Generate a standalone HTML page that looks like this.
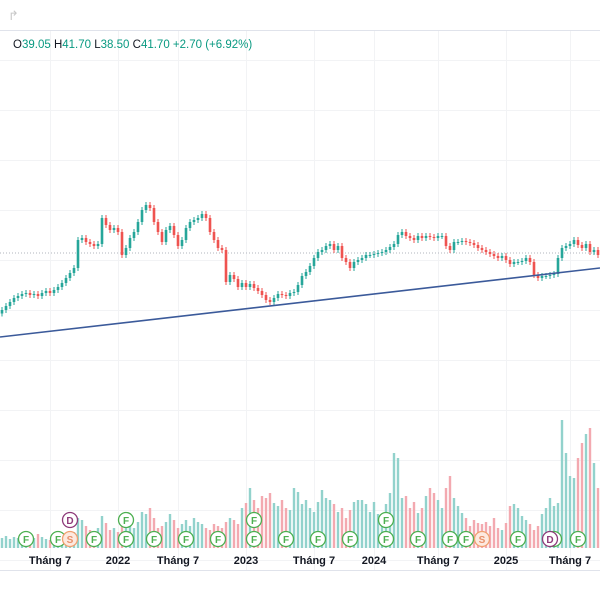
<!DOCTYPE html>
<html><head><meta charset="utf-8">
<style>
body{margin:0;background:#fff;font-family:"Liberation Sans",sans-serif;}
#wrap{position:relative;width:600px;height:600px;overflow:hidden;background:#fff;}
svg{position:absolute;left:0;top:0;}
</style></head>
<body>
<div id="wrap">
<svg id="chart" width="600" height="600">
  <text x="8" y="20" font-size="13" fill="#c8c8c8">↱</text>
  <line x1="0" y1="30.5" x2="600" y2="30.5" stroke="#e0e3eb"/>
  <g id="grid"></g>
  <line x1="0" y1="253" x2="600" y2="253" stroke="#b2b5be" stroke-dasharray="1,2"/>
  <g id="vol"></g>
  <g id="candles"></g>
  <line x1="0" y1="337" x2="600" y2="268" stroke="#3b5a9a" stroke-width="1.6"/>
  <g id="events"></g>
  <g id="xaxis"></g>
  <line x1="0" y1="570.5" x2="600" y2="570.5" stroke="#e0e3eb"/>
  <text x="13" y="48" font-size="11.5"><tspan fill="#131722">O</tspan><tspan fill="#089981">39.05 </tspan><tspan fill="#131722">H</tspan><tspan fill="#089981">41.70 </tspan><tspan fill="#131722">L</tspan><tspan fill="#089981">38.50 </tspan><tspan fill="#131722">C</tspan><tspan fill="#089981">41.70 +2.70 (+6.92%)</tspan></text>
</svg>
</div>
<script>
const closes=[30.3,31.1,31.9,32.7,33.1,33.5,33.7,33.3,33.5,33.1,33.7,34.1,33.7,34.3,34.9,35.7,36.7,37.7,38.7,44.3,
44.7,43.9,43.5,43.1,43.5,48.7,47.3,46.3,46.7,45.9,41.3,42.7,44.7,45.9,47.9,50.3,51.3,50.7,47.9,45.9,
43.9,46.3,47.1,45.3,43.1,44.3,46.7,47.9,48.3,48.7,49.5,48.7,45.9,44.3,42.7,42.3,35.9,37.3,36.5,34.9,
35.7,34.9,35.5,34.7,34.1,33.3,32.3,31.9,32.7,33.5,33.3,33.1,33.7,33.9,35.3,37.1,37.9,39.1,40.7,41.9,
42.3,43.1,43.5,42.3,43.1,40.7,39.9,38.7,39.9,40.3,40.7,41.3,41.3,41.5,41.7,41.9,42.3,42.9,43.5,45.3,
45.9,45.1,44.7,44.3,45.1,44.7,45.1,44.9,44.7,45.1,45.1,43.1,42.3,43.9,43.9,44.1,43.9,43.7,43.3,42.7,
42.3,41.9,41.5,41.1,40.7,41.1,40.3,39.5,39.9,39.9,40.1,40.7,39.9,37.3,36.7,37.1,37.1,37.3,37.5,40.7,
42.7,43.1,43.5,44.3,43.3,42.7,43.5,41.9,42.3,41.3];
const volumes=[10,12,9,11,10,8,12,9,10,14,11,9,8,10,12,13,15,14,16,30,
28,22,18,16,20,32,25,18,20,16,24,22,28,20,26,36,34,40,30,20,
22,26,34,28,20,24,28,22,30,26,24,20,18,24,22,20,26,30,28,24,
40,45,60,48,40,52,50,55,45,42,48,40,38,60,56,44,48,40,36,46,
58,50,48,44,36,40,30,38,46,48,48,44,36,46,34,30,44,55,95,90,
50,52,40,46,35,40,52,60,55,48,40,60,72,50,42,35,30,22,28,25,
24,26,22,30,20,18,25,42,44,40,32,28,24,18,22,34,40,50,42,45,
128,95,72,70,90,105,114,120,85,60];
const firstOpen=29.6;
const timeLabels=["Tháng 7","2022","Tháng 7","2023","Tháng 7","2024","Tháng 7","2025","Tháng 7"];
const timeLabelIdx=[12,29,44,61,78,93,109,126,142];
const eventTypes=["F","F","S","F","F","F","F","F","F","F","F","F","F","F","F","F","S","F","F","D","F","D","F","F","F"];
const eventIdx=[6,14,17,23,31,38,46,54,63,71,79,87,96,104,112,116,120,129,138,137,144,17,31,63,96];
const eventRow=[0,0,0,0,0,0,0,0,0,0,0,0,0,0,0,0,0,0,0,0,0,1,1,1,1];

const NS="http://www.w3.org/2000/svg";
const step=4;
function xOf(i){return 2+i*step;}
function yP(p){return 253-(p-41.7)*5;}
const volBase=548;
function yV(v){return volBase-v;}
function mk(tag,attrs,parent){const e=document.createElementNS(NS,tag);for(const k in attrs)e.setAttribute(k,attrs[k]);parent.appendChild(e);return e;}

const grid=document.getElementById('grid');
for(let y=60;y<570;y+=50){const l=mk('line',{x1:0,x2:600,y1:y+0.5,y2:y+0.5,stroke:'#f2f3f5'},grid);

}
timeLabelIdx.forEach(i=>{const l=mk('line',{x1:xOf(i)+0.5,x2:xOf(i)+0.5,y1:31,y2:570,stroke:'#f2f3f5'},grid);

});

const vol=document.getElementById('vol'),cg=document.getElementById('candles');
closes.forEach((c,i)=>{
  const o=i===0?firstOpen:closes[i-1];
  const up=c>=o;
  const x=xOf(i);
  const b=mk('rect',{x:x-1.2,y:yV(volumes[i]),width:2.4,height:volumes[i],fill:up?'#92d2cc':'#f3a9b0'},vol);
  
  
  const col=up?'#26a69a':'#ef5350';
  const top=Math.max(o,c),bot=Math.min(o,c);
  const w=mk('line',{x1:x,x2:x,y1:yP(top)-3,y2:yP(bot)+3,stroke:col,'stroke-width':1},cg);
  
  
  const r=mk('rect',{x:x-1.3,y:yP(top),width:2.6,height:Math.max(1,yP(bot)-yP(top)),fill:col},cg);
  
  
});

const xa=document.getElementById('xaxis');
timeLabels.forEach((t,k)=>{const e=mk('text',{x:xOf(timeLabelIdx[k]),y:564,'text-anchor':'middle','font-size':'11','font-weight':'bold',fill:'#131722'},xa);
e.textContent=t;

});

const ev=document.getElementById('events');
const evCol={F:['#4caf50','#ffffff','#4caf50'],S:['#f0a070','#fde9e0','#e8906a'],D:['#8e3a7a','#ffffff','#8e3a7a']};
eventTypes.forEach((t,k)=>{
  const x=xOf(eventIdx[k]),y=eventRow[k]?520:539;
  const g=mk('g',{},ev);
  
  
  mk('circle',{cx:x,cy:y,r:7.5,fill:evCol[t][1],stroke:evCol[t][0],'stroke-width':1.3},g);
  const tx=mk('text',{x:x,y:y+3.8,'text-anchor':'middle','font-size':'10','font-weight':'bold',fill:evCol[t][2]},g);
  tx.textContent=t;
});
</script>
</body></html>
